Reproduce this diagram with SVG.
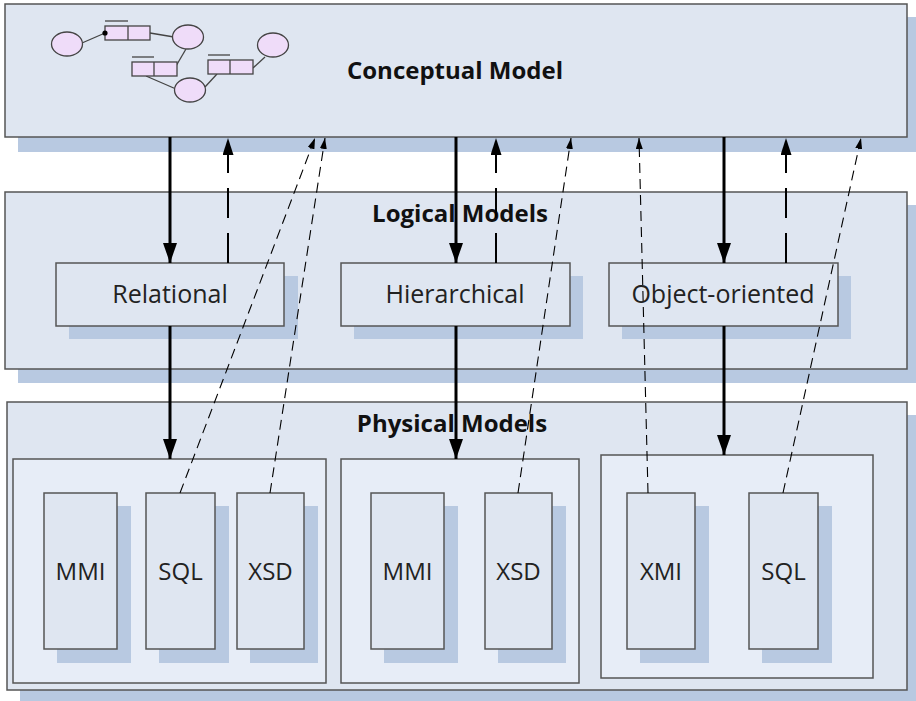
<svg xmlns="http://www.w3.org/2000/svg" width="916" height="701" viewBox="0 0 916 701">
<defs>
<style>
.box{fill:#dfe6f1;stroke:#555;stroke-width:1.5}
.grp{fill:#e7edf7;stroke:#555;stroke-width:1.5}
.sh{fill:#b8c9e1}
.title{font-family:"Open Sans","Liberation Sans",sans-serif;font-weight:bold;font-size:24px;fill:#111;text-anchor:middle}
.lbl{font-family:"Open Sans","Liberation Sans",sans-serif;font-size:25px;fill:#222;text-anchor:middle}
.in{font-family:"Open Sans","Liberation Sans",sans-serif;font-size:24px;fill:#222;text-anchor:middle}
.ent{fill:#efdcf9;stroke:#444;stroke-width:1.3}
.er{stroke:#444;stroke-width:1.3;fill:none}
.thick{stroke:#000;stroke-width:3;fill:none;marker-end:url(#big)}
.ldash{stroke:#000;stroke-width:2;fill:none;stroke-dasharray:30 15;marker-end:url(#mid)}
.tdash{stroke:#000;stroke-width:1.1;fill:none;stroke-dasharray:10 6;marker-end:url(#small)}
</style>
<marker id="big" viewBox="0 0 20 14" refX="20" refY="7" markerWidth="20" markerHeight="14" markerUnits="userSpaceOnUse" orient="auto"><path d="M0,0 L20,7 L0,14 z" fill="#000"/></marker>
<marker id="mid" viewBox="0 0 17 11" refX="17" refY="5.5" markerWidth="17" markerHeight="11" markerUnits="userSpaceOnUse" orient="auto"><path d="M0,0 L17,5.5 L0,11 z" fill="#000"/></marker>
<marker id="small" viewBox="0 0 11 7" refX="11" refY="3.5" markerWidth="11" markerHeight="7" markerUnits="userSpaceOnUse" orient="auto"><path d="M0,0 L11,3.5 L0,7 z" fill="#000"/></marker>
</defs>
<rect width="916" height="701" fill="#fff"/>

<g id="conceptual">
<rect class="sh" x="18" y="17" width="907" height="135"/>
<rect class="box" x="5" y="4" width="902" height="133"/>
<text class="title" x="455" y="79">Conceptual Model</text>
<g id="er-icon">
<line class="er" x1="82" y1="43" x2="105" y2="33"/>
<line class="er" x1="150" y1="33" x2="174" y2="37"/>
<line class="er" x1="186" y1="49" x2="176" y2="66"/>
<line class="er" x1="146" y1="76" x2="176" y2="89"/>
<line class="er" x1="205" y1="87" x2="217" y2="74"/>
<line class="er" x1="253" y1="68" x2="265" y2="57"/>
<ellipse class="ent" cx="67" cy="44" rx="15.5" ry="12"/>
<ellipse class="ent" cx="188" cy="37" rx="15.5" ry="12"/>
<ellipse class="ent" cx="190" cy="90" rx="15.5" ry="12"/>
<ellipse class="ent" cx="273" cy="45" rx="15.5" ry="12"/>
<rect class="ent" x="105" y="26" width="45" height="14"/>
<line class="er" x1="128" y1="26" x2="128" y2="40"/>
<line class="er" x1="105" y1="21" x2="128" y2="21"/>
<circle cx="105" cy="33" r="2.6" fill="#000"/>
<rect class="ent" x="132" y="62" width="45" height="14"/>
<line class="er" x1="154" y1="62" x2="154" y2="76"/>
<line class="er" x1="132" y1="57" x2="154" y2="57"/>
<rect class="ent" x="208" y="60" width="45" height="14"/>
<line class="er" x1="230" y1="60" x2="230" y2="74"/>
<line class="er" x1="208" y1="55" x2="230" y2="55"/>
</g>
</g>

<g id="logical">
<rect class="sh" x="18" y="205" width="907" height="178"/>
<rect class="box" x="5" y="192" width="902" height="177"/>
<text class="title" x="460" y="222">Logical Models</text>
</g>

<g id="relational">
<rect class="sh" x="69" y="276" width="229" height="63"/>
<rect class="box" x="56" y="263" width="228" height="63"/>
<text class="lbl" x="170" y="303">Relational</text>
</g>
<g id="hierarchical">
<rect class="sh" x="354" y="276" width="229" height="63"/>
<rect class="box" x="341" y="263" width="229" height="63"/>
<text class="lbl" x="455" y="303">Hierarchical</text>
</g>
<g id="object-oriented">
<rect class="sh" x="622" y="276" width="229" height="63"/>
<rect class="box" x="609" y="263" width="229" height="63"/>
<text class="lbl" x="723" y="303">Object-oriented</text>
</g>

<g id="physical">
<rect class="sh" x="20" y="415" width="905" height="290"/>
<rect class="box" x="7" y="402" width="900" height="288"/>
<text class="title" x="452" y="432">Physical Models</text>
</g>

<g id="phys-relational">
<rect class="grp" x="13" y="459" width="313" height="224"/>
</g>
<g id="phys-hierarchical">
<rect class="grp" x="341" y="459" width="238" height="224"/>
</g>
<g id="phys-object">
<rect class="grp" x="601" y="455" width="272" height="223"/>
</g>

<g id="mmi-1">
<rect class="sh" x="57" y="506" width="74" height="157"/>
<rect class="box" x="44" y="493" width="73" height="156"/>
<text class="in" x="80.5" y="580">MMI</text>
</g>
<g id="sql-1">
<rect class="sh" x="159" y="506" width="70" height="157"/>
<rect class="box" x="146" y="493" width="69" height="156"/>
<text class="in" x="180.5" y="580">SQL</text>
</g>
<g id="xsd-1">
<rect class="sh" x="250" y="506" width="68" height="157"/>
<rect class="box" x="237" y="493" width="67" height="156"/>
<text class="in" x="270.5" y="580">XSD</text>
</g>
<g id="mmi-2">
<rect class="sh" x="384" y="506" width="74" height="157"/>
<rect class="box" x="371" y="493" width="73" height="156"/>
<text class="in" x="407.5" y="580">MMI</text>
</g>
<g id="xsd-2">
<rect class="sh" x="498" y="506" width="68" height="157"/>
<rect class="box" x="485" y="493" width="67" height="156"/>
<text class="in" x="518.5" y="580">XSD</text>
</g>
<g id="xmi">
<rect class="sh" x="640" y="506" width="69" height="157"/>
<rect class="box" x="627" y="493" width="68" height="156"/>
<text class="in" x="661" y="580">XMI</text>
</g>
<g id="sql-3">
<rect class="sh" x="762" y="506" width="70" height="157"/>
<rect class="box" x="749" y="493" width="69" height="156"/>
<text class="in" x="783.5" y="580">SQL</text>
</g>

<g id="connectors">
<line class="thick" x1="170" y1="137" x2="170" y2="263"/>
<line class="thick" x1="456" y1="137" x2="456" y2="263"/>
<line class="thick" x1="724" y1="137" x2="724" y2="263"/>
<line class="thick" x1="170" y1="326" x2="170" y2="459"/>
<line class="thick" x1="456" y1="326" x2="456" y2="459"/>
<line class="thick" x1="724" y1="326" x2="724" y2="455"/>
<line class="ldash" x1="228" y1="263" x2="228" y2="138"/>
<line class="ldash" x1="496" y1="263" x2="496" y2="138"/>
<line class="ldash" x1="786" y1="263" x2="786" y2="138"/>
<line class="tdash" x1="180" y1="493" x2="315" y2="138"/>
<line class="tdash" x1="270" y1="493" x2="325" y2="138"/>
<line class="tdash" x1="518" y1="493" x2="571" y2="138"/>
<line class="tdash" x1="648" y1="493" x2="639" y2="138"/>
<line class="tdash" x1="783" y1="493" x2="861" y2="138"/>
</g>
</svg>
